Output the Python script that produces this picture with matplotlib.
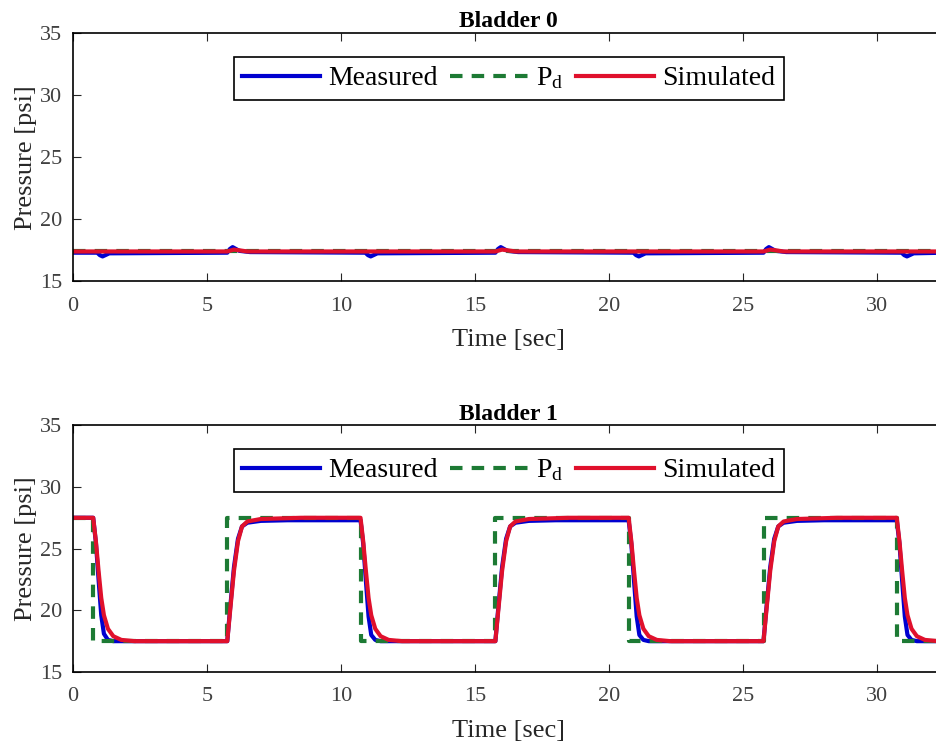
import matplotlib
matplotlib.use("Agg")
import matplotlib.pyplot as plt

# ---------------- Bladder 0 (nearly constant)
t0_meas = [0, 0.9, 1.0, 1.1, 1.2, 1.35, 5.75, 5.85, 5.95, 6.2, 6.6,
           10.9, 11.0, 11.1, 11.2, 11.35, 15.75, 15.85, 15.95, 16.2, 16.6,
           20.9, 21.0, 21.1, 21.2, 21.35, 25.75, 25.85, 25.95, 26.2, 26.6,
           30.9, 31.0, 31.1, 31.2, 31.35, 32.5]
p0_meas = [17.3, 17.3, 17.1, 17.0, 17.1, 17.25, 17.3, 17.6, 17.75, 17.45, 17.35,
           17.3, 17.1, 17.0, 17.1, 17.25, 17.3, 17.6, 17.75, 17.45, 17.35,
           17.3, 17.1, 17.0, 17.1, 17.25, 17.3, 17.6, 17.75, 17.45, 17.35,
           17.3, 17.1, 17.0, 17.1, 17.25, 17.3]
t0_des = [0, 32.5]
p0_des = [17.45, 17.45]
t0_sim = [0, 5.75, 6.0, 6.5, 15.75, 16.0, 16.5, 25.75, 26.0, 26.5, 32.5]
p0_sim = [17.4, 17.4, 17.55, 17.4, 17.4, 17.55, 17.4, 17.4, 17.55, 17.4, 17.4]

# ---------------- Bladder 1 (square wave)
t1_des = [0, 0.75, 0.75, 5.75, 5.75, 10.72, 10.72, 15.75, 15.75,
          20.72, 20.72, 25.75, 25.75, 30.72, 30.72, 32.5]
p1_des = [27.5, 27.5, 17.5, 17.5, 27.5, 27.5, 17.5, 17.5, 27.5,
          27.5, 17.5, 17.5, 27.5, 27.5, 17.5, 17.5]

t1_meas = [0, 0.75, 0.85, 0.95, 1.05, 1.15, 1.3, 1.5,
           5.75, 5.85, 6.0, 6.15, 6.3, 6.5, 7.0, 8.0,
           10.72, 10.82, 10.92, 11.02, 11.12, 11.27, 11.47,
           15.75, 15.85, 16.0, 16.15, 16.3, 16.5, 17.0, 18.0,
           20.72, 20.82, 20.92, 21.02, 21.12, 21.27, 21.47,
           25.75, 25.85, 26.0, 26.15, 26.3, 26.5, 27.0, 28.0,
           30.72, 30.82, 30.92, 31.02, 31.12, 31.27, 31.47, 32.5]
p1_meas = [27.5, 27.5, 25.5, 22.5, 19.6, 18.1, 17.6, 17.5,
           17.5, 20.0, 23.5, 25.8, 26.8, 27.1, 27.25, 27.3,
           27.3, 25.4, 22.4, 19.5, 18.0, 17.6, 17.5,
           17.5, 20.0, 23.5, 25.8, 26.8, 27.1, 27.25, 27.3,
           27.3, 25.4, 22.4, 19.5, 18.0, 17.6, 17.5,
           17.5, 20.0, 23.5, 25.8, 26.8, 27.1, 27.25, 27.3,
           27.3, 25.4, 22.4, 19.5, 18.0, 17.6, 17.5, 17.5]

t1_sim = [0, 0.75, 0.85, 0.95, 1.05, 1.15, 1.3, 1.5, 1.8, 2.3,
          5.75, 5.85, 6.0, 6.15, 6.3, 6.5, 7.0, 8.5,
          10.72, 10.82, 10.92, 11.02, 11.12, 11.27, 11.47, 11.77, 12.27,
          15.75, 15.85, 16.0, 16.15, 16.3, 16.5, 17.0, 18.5,
          20.72, 20.82, 20.92, 21.02, 21.12, 21.27, 21.47, 21.77, 22.27,
          25.75, 25.85, 26.0, 26.15, 26.3, 26.5, 27.0, 28.5,
          30.72, 30.82, 30.92, 31.02, 31.12, 31.27, 31.47, 31.77, 32.27, 32.5]
p1_sim = [27.5, 27.5, 25.6, 23.2, 21.0, 19.6, 18.5, 17.9, 17.6, 17.5,
          17.5, 19.8, 23.2, 25.6, 26.8, 27.2, 27.4, 27.5,
          27.5, 25.6, 23.2, 21.0, 19.6, 18.5, 17.9, 17.6, 17.5,
          17.5, 19.8, 23.2, 25.6, 26.8, 27.2, 27.4, 27.5,
          27.5, 25.6, 23.2, 21.0, 19.6, 18.5, 17.9, 17.6, 17.5,
          17.5, 19.8, 23.2, 25.6, 26.8, 27.2, 27.4, 27.5,
          27.5, 25.6, 23.2, 21.0, 19.6, 18.5, 17.9, 17.6, 17.5, 17.5]

panels = [("Bladder 0", t0_meas, p0_meas, t0_des, p0_des, t0_sim, p0_sim),
          ("Bladder 1", t1_meas, p1_meas, t1_des, p1_des, t1_sim, p1_sim)]

plt.rcParams['font.family'] = ['Liberation Serif', 'DejaVu Serif']
plt.rcParams['mathtext.fontset'] = 'custom'
plt.rcParams['mathtext.rm'] = 'Liberation Serif'

blue = '#0000d0'
green = '#1d7a34'
red = '#e0102c'

fig = plt.figure(figsize=(9.37, 7.5), dpi=100)
boxes = [[0.078, 0.625, 0.93, 0.331], [0.078, 0.104, 0.93, 0.329]]

for box, (title, tm, pm, td, pdes, ts, ps) in zip(boxes, panels):
    ax = fig.add_axes(box)
    ax.plot(tm, pm, color=blue, lw=3, label='Measured')
    ax.plot(td, pdes, color=green, lw=3, ls=(0, (3, 2.2)), label=r'$\mathrm{P_d}$')
    ax.plot(ts, ps, color=red, lw=3, label='Simulated')
    ax.set_xlim(0, 32.5)
    ax.set_ylim(15, 35)
    ax.set_xticks([0, 5, 10, 15, 20, 25, 30])
    ax.set_yticks([15, 20, 25, 30, 35])
    ax.tick_params(direction='in', top=True, right=True, labelsize=16,
                   length=6, colors='#262626', labelcolor='#404040')
    ax.tick_params(axis='x', pad=11)
    ax.tick_params(axis='y', pad=8)
    for s in ax.spines.values():
        s.set_linewidth(1.2)
    ax.set_xlabel('Time [sec]', fontsize=19, color='#262626', labelpad=10)
    ax.set_ylabel('Pressure [psi]', fontsize=19, color='#262626', labelpad=2)
    ax.set_title(title, fontsize=17, fontweight='bold', pad=4)
    leg = ax.legend(loc='upper center', ncol=3, fontsize=20, frameon=True,
                    fancybox=False, edgecolor='black', framealpha=1,
                    handlelength=2.8, handletextpad=0.3, columnspacing=0.45,
                    borderpad=0.3, borderaxespad=0,
                    bbox_to_anchor=(0.5, 0.903))
    leg.get_frame().set_linewidth(1.2)

fig.savefig('out.png', dpi=100)
